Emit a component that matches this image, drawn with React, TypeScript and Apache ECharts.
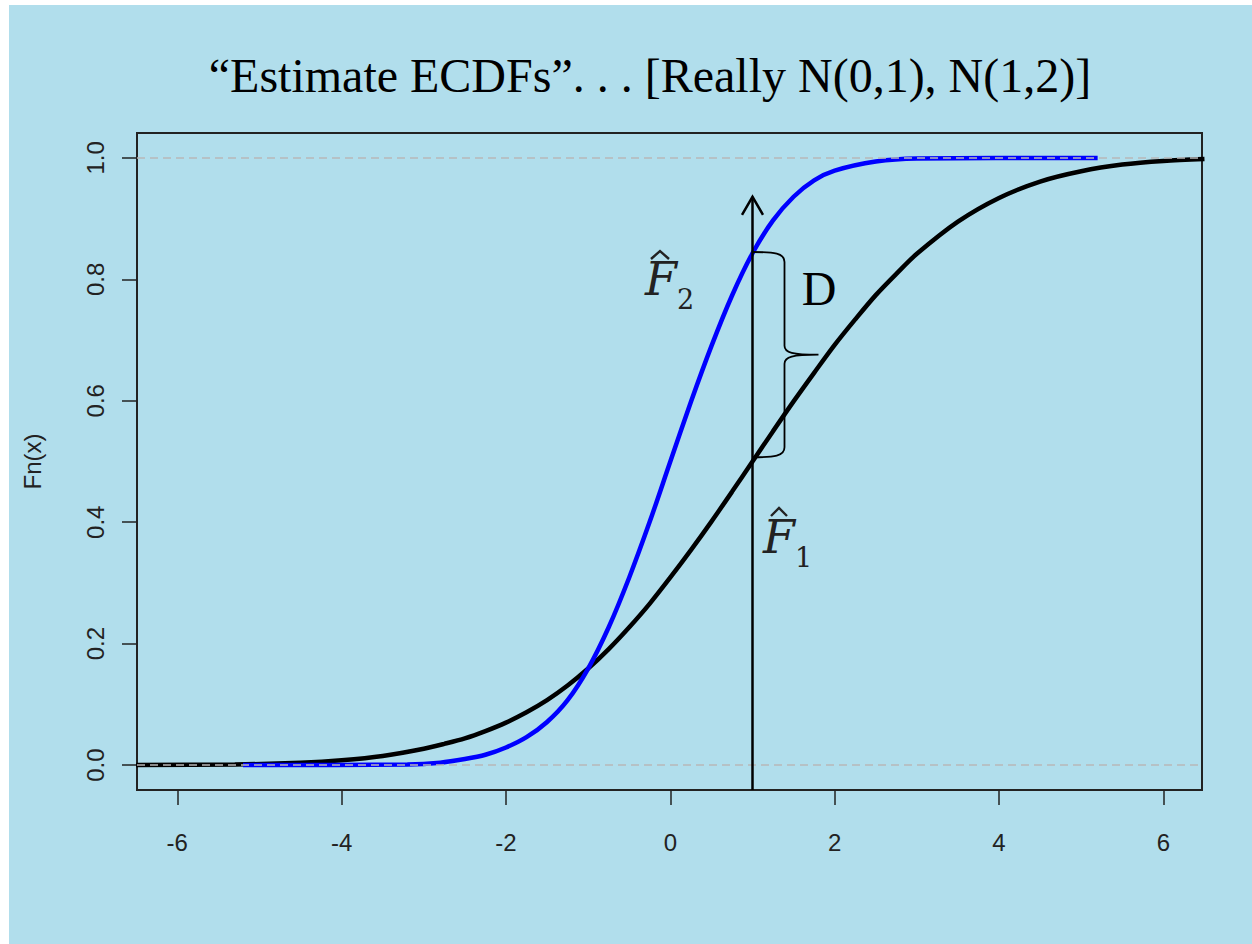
import React, { useEffect, useRef } from "react";
import * as echarts from "echarts";

const titleText = "\u201CEstimate ECDFs\u201D. . . [Really N(0,1), N(1,2)]";
const yAxisName = "Fn(x)";
const xTicks = [-6, -4, -2, 0, 2, 4, 6];
const yTicks = [0, 0.2, 0.4, 0.6, 0.8, 1.0];
const refLevels = [0, 1];

// F1-hat (black), sample from N(1,2)
const f1X = [-6.5, -5.3, -4.5, -4, -3.5, -3, -2.75, -2.5, -2.25, -2, -1.75, -1.5, -1.25, -1, -0.75, -0.5, -0.25, 0, 0.25, 0.5, 0.75, 1, 1.25, 1.5, 1.75, 2, 2.25, 2.5, 2.75, 3, 3.5, 4, 4.5, 5, 5.5, 6, 6.5];
const f1Y = [0, 0.001, 0.004, 0.008, 0.015, 0.027, 0.035, 0.044, 0.056, 0.07, 0.087, 0.107, 0.131, 0.159, 0.191, 0.227, 0.266, 0.309, 0.354, 0.401, 0.45, 0.5, 0.55, 0.599, 0.646, 0.692, 0.734, 0.774, 0.809, 0.842, 0.895, 0.934, 0.961, 0.978, 0.989, 0.995, 0.998];

// F2-hat (blue), sample from N(0,1)
const f2X = [-5.2, -3.2, -2.8, -2.5, -2.25, -2, -1.75, -1.5, -1.25, -1, -0.75, -0.5, -0.25, 0, 0.25, 0.5, 0.75, 1, 1.25, 1.5, 1.75, 2, 2.5, 3, 5.2];
const f2Y = [0, 0.001, 0.004, 0.01, 0.017, 0.029, 0.046, 0.071, 0.107, 0.159, 0.227, 0.309, 0.401, 0.5, 0.598, 0.69, 0.773, 0.843, 0.897, 0.936, 0.963, 0.979, 0.994, 0.999, 1];

// annotation: vertical line at x = 1, D = gap between the two ECDFs there
const dAt = 1;
const dTop = 0.845;
const dBottom = 0.507;
const arrowTop = 0.936;

function hatLabel(left: number, top: number, sub: string, hat: number[][]) {
  // italic F with a subscript; hat drawn as a small chevron above
  return [
    {
      type: "text", x: left, y: top,
      style: {
        text: `{f|F}{s|${sub}}`, align: "left", verticalAlign: "top", fill: "#222",
        rich: {
          f: { fontSize: 46, fontStyle: "italic", fontFamily: "DejaVu Serif", lineHeight: 68, fill: "#222" },
          s: { fontSize: 27, fontFamily: "DejaVu Serif", lineHeight: 17, verticalAlign: "bottom", fill: "#222" },
        },
      },
    },
    {
      type: "polyline",
      shape: { points: hat },
      style: { stroke: "#222", lineWidth: 2.4, fill: null },
    },
  ];
}

export default function App() {
  const ref = useRef<HTMLDivElement>(null);
  useEffect(() => {
    const chart = echarts.init(ref.current!, null, { renderer: "svg" });
    const axisFont = { fontSize: 24, fontFamily: "Liberation Sans", color: "#222" };
    chart.setOption({
      animation: false,
      backgroundColor: "#ffffff",
      grid: {
        left: 137, top: 133, right: 50, bottom: 154,
        show: true, borderColor: "#222", borderWidth: 2, backgroundColor: "transparent",
        containLabel: false, outerBoundsMode: "none",
      },
      xAxis: {
        type: "value", min: -6.49, max: 6.47,
        axisLine: { show: false, onZero: false }, splitLine: { show: false },
        axisTick: { show: true, length: 15, customValues: xTicks, lineStyle: { color: "#222", width: 1.5 } },
        axisLabel: { customValues: xTicks, margin: 40, ...axisFont },
      },
      yAxis: {
        type: "value", min: -0.041, max: 1.041,
        name: yAxisName, nameLocation: "middle", nameGap: 93, nameRotate: 90,
        nameTextStyle: { ...axisFont },
        axisLine: { show: false, onZero: false }, splitLine: { show: false },
        axisTick: { show: true, length: 15, customValues: yTicks, lineStyle: { color: "#222", width: 1.5 } },
        axisLabel: { customValues: yTicks, rotate: 90, margin: 30, formatter: (v: number) => v.toFixed(1), ...axisFont },
      },
      graphic: [
        { type: "rect", z: -100, silent: true, shape: { x: 9, y: 5, width: 1243, height: 939 }, style: { fill: "#b1deec" } },
        { type: "text", x: 650, y: 75, style: { text: titleText, fontSize: 48, fontFamily: "Liberation Serif", fill: "#000", align: "center", verticalAlign: "middle" } },
        { type: "text", x: 819, y: 288, style: { text: "D", fontSize: 48, fontFamily: "Liberation Serif", fill: "#000", align: "center", verticalAlign: "middle" } },
        ...hatLabel(645, 245, "2", [[651, 259], [660, 251], [669, 259]]),
        ...hatLabel(763, 503, "1", [[771, 516], [779, 508], [787, 516]]),
      ],
      series: [
        {
          type: "line", name: "F1", silent: true, showSymbol: false, symbol: "none",
          smooth: 0.3, z: 2,
          lineStyle: { color: "#000000", width: 4.5 },
          data: f1X.map((x, i) => [x, f1Y[i]]),
        },
        {
          type: "line", name: "F2", silent: true, showSymbol: false, symbol: "none",
          smooth: 0.3, z: 3,
          lineStyle: { color: "#0000ff", width: 4.5 },
          data: f2X.map((x, i) => [x, f2Y[i]]),
        },
        {
          type: "line", name: "ref", silent: true, data: [], z: 5,
          markLine: {
            silent: true, symbol: "none", label: { show: false },
            lineStyle: { type: [8, 5], color: "#b8b8b8", width: 1.5 },
            emphasis: { disabled: true },
            data: refLevels.map((v) => ({ yAxis: v })),
          },
        },
        {
          type: "custom", name: "annot", silent: true, clip: false, z: 6,
          data: [[dAt, dTop, dBottom, arrowTop]],
          encode: { x: 0, y: 1 },
          renderItem: (params: any, api: any) => {
            const cs = params.coordSys;
            const x = api.value(0);
            const top = api.coord([x, api.value(1)]);
            const bot = api.coord([x, api.value(2)]);
            const tip = api.coord([x, api.value(3)]);
            const base = cs.y + cs.height;
            const px = top[0];
            const bx = px + 32;
            const tx = px + 66;
            const my = (top[1] + bot[1]) / 2;
            const d =
              `M${px},${top[1]} C${px + 22},${top[1]} ${bx},${top[1] + 1} ${bx},${top[1] + 10} ` +
              `L${bx},${my - 9} C${bx},${my - 2} ${bx + 8},${my} ${tx},${my} ` +
              `C${bx + 8},${my} ${bx},${my + 2} ${bx},${my + 9} ` +
              `L${bx},${bot[1] - 10} C${bx},${bot[1] - 1} ${px + 22},${bot[1]} ${px},${bot[1]}`;
            return {
              type: "group",
              children: [
                { type: "line", shape: { x1: px, y1: base, x2: px, y2: tip[1] }, style: { stroke: "#000", lineWidth: 2.5 } },
                { type: "polyline", shape: { points: [[px - 10.5, tip[1] + 18], [px, tip[1]], [px + 10.5, tip[1] + 18]] }, style: { stroke: "#000", lineWidth: 2.5, fill: null } },
                { type: "path", shape: { pathData: d }, style: { stroke: "#000", lineWidth: 1.8, fill: null } },
              ],
            };
          },
        },
      ],
    });
    return () => chart.dispose();
  }, []);
  return <div ref={ref} style={{ position: "absolute", left: 0, top: 0, width: 1252, height: 944 }} />;
}
